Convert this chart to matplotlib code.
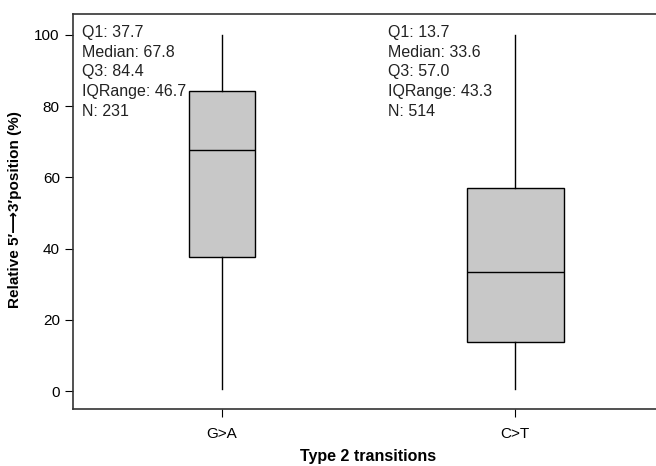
import numpy as np
import matplotlib.pyplot as plt

plt.rcParams['font.family'] = ['Liberation Sans', 'DejaVu Sans']

labels = ['G>A', 'C>T']
q1 = [37.7, 13.7]
median = [67.8, 33.6]
q3 = [84.4, 57.0]
iqr = [46.7, 43.3]
n = [231, 514]
wlo = [0.5, 0.5]
whi = [100, 100]

fig = plt.figure(figsize=(6.56, 4.66), dpi=100)
ax = fig.add_axes([0.1113, 0.1223, 0.8887, 0.8477])

stats = []
for i in range(len(labels)):
    stats.append({'label': labels[i], 'q1': q1[i], 'med': median[i], 'q3': q3[i],
                  'whislo': wlo[i], 'whishi': whi[i], 'fliers': []})

# box widths scale with sqrt(N)
widths = list(0.222 * np.sqrt(np.array(n) / n[0]))

ax.bxp(stats, positions=[1, 2], widths=widths, patch_artist=True, showcaps=False,
       boxprops=dict(facecolor='#c8c8c8', edgecolor='black', linewidth=1),
       medianprops=dict(color='black', linewidth=1),
       whiskerprops=dict(color='black', linewidth=1))

ax.set_xlim(0.4915, 2.481)
ax.set_ylim(-5.0, 105.9)
ax.set_yticks([0, 20, 40, 60, 80, 100])
ax.tick_params(direction='out', length=6, labelsize=11, colors='black')
ax.tick_params(axis='x', pad=7)
for s in ax.spines.values():
    s.set_color('#333333')
    s.set_linewidth(1.2)
ax.spines['right'].set_visible(False)

txt_x = [0.015, 0.541]
for i in range(len(labels)):
    s = 'Q1: %.1f\nMedian: %.1f\nQ3: %.1f\nIQRange: %.1f\nN: %d' % (q1[i], median[i], q3[i], iqr[i], n[i])
    ax.text(txt_x[i], 0.973, s, transform=ax.transAxes, ha='left', va='top',
            fontsize=11.5, linespacing=1.41, color='#222222')

ax.set_xlabel('Type 2 transitions', fontsize=11.5, fontweight='bold')
ax.xaxis.set_label_coords((368.5 - 73) / 583.0, -0.101)
ax.set_ylabel('Relative 5\u2032\u27f63\u2032position (%)', fontsize=11, fontweight='bold')
ax.yaxis.set_label_coords(-0.087, (409 - 210) / 395.0)

fig.savefig('out.png', dpi=100)
